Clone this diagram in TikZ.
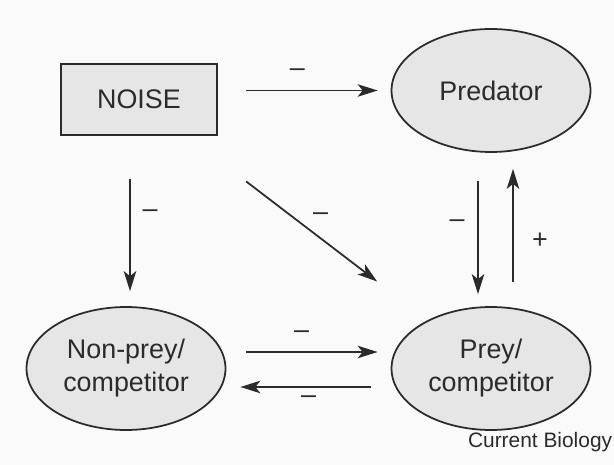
\documentclass[tikz,border=0pt]{standalone}
\usepackage{fontspec}
\setmainfont{Liberation Sans}
\usetikzlibrary{shapes.geometric,arrows.meta}
\definecolor{boxgray}{HTML}{E6E6E6}
\definecolor{inkgray}{HTML}{2B2B2B}
\definecolor{paper}{HTML}{FAFAFA}
\begin{document}
\begin{tikzpicture}[x=0.02cm,y=-0.02cm,>={Stealth[length=0.4cm,width=0.25cm,inset=0.1cm]},line width=1pt,draw=inkgray,
	species/.style={ellipse,draw=inkgray,fill=boxgray,minimum width=3.98cm,minimum height=2.46cm,inner sep=0pt,align=center,text=inkgray,font=\fontsize{15.3}{18.8}\selectfont},
	sign/.style={text=inkgray,font=\fontsize{15.3}{16}\selectfont,inner sep=0pt}]
	\fill[paper] (0,0) rectangle (614,465);
	\useasboundingbox (0,0) rectangle (614,465);
	% boxes
	\node[draw=inkgray,fill=boxgray,minimum width=3.12cm,minimum height=1.42cm,text=inkgray,font=\fontsize{15.3}{16}\selectfont] (noise) at (139,99.5) {NOISE};
	\node[species] (pred) at (491,90.5) {Predator};
	\node[species] (nonprey) at (126,368.5) {Non-prey/\\competitor};
	\node[species] (prey) at (491,368.5) {Prey/\\competitor};
	% arrows
	\draw[->,inkgray,shorten <=0.56cm,shorten >=0.26cm] (noise.east |- pred.west) -- (pred.west)
		node[sign,midway,xshift=-0.14cm,yshift=0.36cm] {\textendash};
	\draw[->,inkgray,shorten <=0.86cm,shorten >=0.3cm] ([xshift=-0.18cm]noise.south) -- ([xshift=-0.18cm]noise.south |- nonprey.north)
		node[sign,midway,xshift=0.4cm,yshift=0.14cm] {\textendash};
	\draw[->,inkgray,shorten <=1.5cm,shorten >=1.27cm] (noise) -- (prey)
		node[sign,midway,xshift=0.27cm,yshift=0.22cm] {\textendash};
	\draw[->,inkgray,shorten <=0.56cm,shorten >=0.24cm] ([xshift=-0.26cm]pred.south) -- ([xshift=-0.26cm]pred.south |- prey.north)
		node[sign,midway,xshift=-0.42cm,yshift=0.11cm] {\textendash};
	\draw[->,inkgray,shorten <=0.48cm,shorten >=0.32cm] ([xshift=0.44cm]prey.north) -- ([xshift=0.44cm]prey.north |- pred.south)
		node[sign,midway,xshift=0.54cm,yshift=-0.23cm] {+};
	\draw[->,inkgray,shorten <=0.4cm,shorten >=0.26cm] ([yshift=0.33cm]nonprey.east) -- ([yshift=0.33cm]prey.west)
		node[sign,midway,xshift=-0.14cm,yshift=0.34cm] {\textendash};
	\draw[->,inkgray,shorten <=0.4cm,shorten >=0.28cm] ([yshift=-0.37cm]prey.west) -- ([yshift=-0.37cm]nonprey.east)
		node[sign,midway,yshift=-0.26cm] {\textendash};
	% credit
	\node[anchor=base east,inner sep=0pt,text=inkgray,font=\fontsize{11.9}{13}\selectfont] (credit) at (613,447) {Current Biology};
\end{tikzpicture}
\end{document}
